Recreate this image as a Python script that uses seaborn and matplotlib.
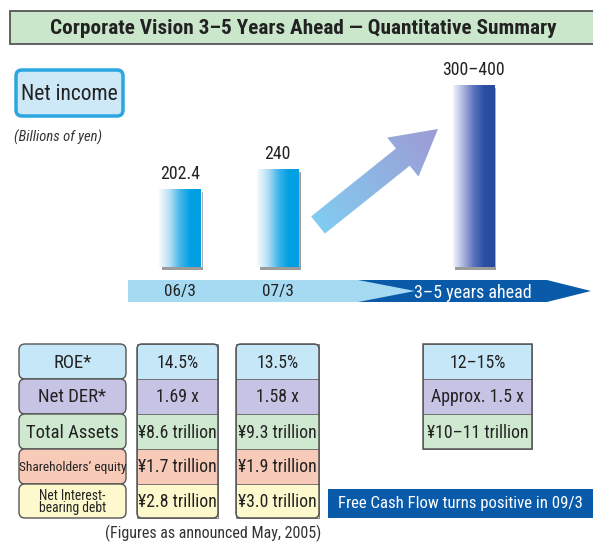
import numpy as np
import pandas as pd
import matplotlib.pyplot as plt
import seaborn as sns
from matplotlib import font_manager as fm
from matplotlib.patches import FancyBboxPatch, Rectangle, Polygon, FancyArrow
from matplotlib.colors import LinearSegmentedColormap

# data
periods = ['06/3', '07/3', '3–5 years ahead']
net_income = [202.4, 240, 400]
income_labels = ['202.4', '240', '300–400']

row_names = ['ROE*', 'Net DER*', 'Total Assets', 'Shareholders’ equity', 'Net Interest-\nbearing debt']
fy06 = ['14.5%', '1.69 x', '¥8.6 trillion', '¥1.7 trillion', '¥2.8 trillion']
fy07 = ['13.5%', '1.58 x', '¥9.3 trillion', '¥1.9 trillion', '¥3.0 trillion']
target = ['12–15%', 'Approx. 1.5 x', '¥10–11 trillion']
row_colors = ['#c6e7f8', '#c7c3e4', '#cfe8d0', '#f7cbb8', '#fdf9cd']

sns.set_theme(style='white')

# pick the narrowest font that is installed
names = {f.name for f in fm.fontManager.ttflist}
FAM, STR = 'Liberation Sans', 'normal'
for n in ['Liberation Sans Narrow', 'DejaVu Sans Condensed', 'Roboto Condensed']:
    if n in names:
        FAM = n
        break
else:
    if any(f.name == 'DejaVu Sans' and 'condensed' in str(f.stretch) for f in fm.fontManager.ttflist):
        FAM, STR = 'DejaVu Sans', 'condensed'
plt.rcParams['font.family'] = [FAM, 'DejaVu Sans']


def txt(ax, x, y, s, size, **kw):
    kw.setdefault('ha', 'center')
    kw.setdefault('va', 'center')
    kw.setdefault('color', '#222222')
    return ax.text(x, y, s, fontsize=size, fontstretch=STR, **kw)


W, H = 593, 542
fig = plt.figure(figsize=(W / 100, H / 100), dpi=100)
ax0 = fig.add_axes([0, 0, 1, 1])
ax0.set_xlim(0, W)
ax0.set_ylim(H, 0)
ax0.axis('off')


def px_axes(x0, y0, x1, y1):
    return fig.add_axes([x0 / W, 1 - y1 / H, (x1 - x0) / W, (y1 - y0) / H])


# title band
ax0.add_patch(Rectangle((10, 11), 600, 33, fc='#cbe7cb', ec='#555555', lw=1.3))
txt(ax0, 303, 28, 'Corporate Vision 3–5 Years Ahead — Quantitative Summary', 15.3, fontweight='bold')

# net income label
ax0.add_patch(FancyBboxPatch((16, 70), 107, 46, boxstyle='round,pad=0,rounding_size=6',
                             fc='#cde8f7', ec='#2aa6e0', lw=2.5))
txt(ax0, 69, 94, 'Net income', 15.5)
txt(ax0, 14, 137, '(Billions of yen)', 10.5, ha='left', style='italic', color='#333333')

# period strip
ax0.add_patch(Polygon([(350, 280), (547, 280), (591, 291), (547, 302), (350, 302)],
                      closed=True, fc='#0a5aaa', ec='none'))
ax0.add_patch(Polygon([(128, 280), (358, 280), (415, 291), (358, 302), (128, 302)],
                      closed=True, fc='#a6daf3', ec='none'))

# growth arrow with gradient
arrow = FancyArrow(318, 225, 120, -96, width=22, head_width=50, head_length=45,
                   length_includes_head=True, fc='none', ec='none')
ax0.add_patch(arrow)
xs = np.linspace(300, 450, 120)
ys = np.linspace(120, 240, 120)
X, Y = np.meshgrid(xs, ys)
t = np.clip(((X - 318) * 120 + (Y - 225) * (-96)) / (120 ** 2 + 96 ** 2), 0, 1)
arr_cmap = LinearSegmentedColormap.from_list('arr', ['#82ccf1', '#9d9bd4'])
im = ax0.imshow(t, cmap=arr_cmap, extent=[300, 450, 240, 120], aspect='auto', zorder=2)
im.set_clip_path(arrow)
ax0.set_xlim(0, W)
ax0.set_ylim(H, 0)

# bars
unit = 97.7
base, scale = 56, 0.53
ax = px_axes(128, 60, 590, 267)
ax.patch.set_alpha(0)
df = pd.DataFrame({'period': periods, 'income': net_income})
order = [periods[0], periods[1], ' ', periods[2]]
sns.barplot(data=df, x='period', y='income', order=order, width=0.42, color='#00a0e3',
            ax=ax, saturation=1)
xlim = ((128 - 180) / unit, (590 - 180) / unit)
ylim = (base, base + 207 / scale)

cyan = LinearSegmentedColormap.from_list('c', ['#f6fbfe', '#b8e0f5', '#45b6ea', '#00a0e3', '#00a0e3'])
navy = LinearSegmentedColormap.from_list('n', ['#f4f4fb', '#aab3dc', '#5a72bd', '#2a4ea3', '#274a9f'])
grad = np.linspace(0, 1, 256).reshape(1, -1)
bars = sorted(ax.patches, key=lambda p: p.get_x())
for i, p in enumerate(bars):
    x0, w, h = p.get_x(), p.get_width(), p.get_height()
    cm = navy if i == 2 else cyan
    ax.add_patch(Rectangle((x0 + 2.5 / unit, base - 3 / scale), w, h - base, fc='#9b9b9b',
                           ec='none', clip_on=False, zorder=1))
    p.set_zorder(2)
    p.set_facecolor('none')
    g = ax.imshow(grad, cmap=cm, extent=[x0, x0 + w, base, h], aspect='auto',
                  zorder=3, interpolation='bicubic')
    g.set_clip_path(p)
    ax.annotate(income_labels[i], (x0 + w / 2, h), xytext=(0, 15), textcoords='offset pixels',
                ha='center', va='center', fontsize=12.8, fontstretch=STR, color='#222222')
ax.set_xlim(*xlim)
ax.set_ylim(*ylim)
ax.set_xlabel('')
ax.set_ylabel('')
ax.set_yticks([])
sns.despine(ax=ax, left=True, bottom=True)
ax.tick_params(axis='x', length=0, pad=12)
for lab in ax.get_xticklabels():
    big = lab.get_text() == periods[2]
    lab.set_fontsize(13 if big else 12.3)
    lab.set_fontstretch(STR)
    lab.set_color('white' if big else '#222222')

# table
edges = [344, 379, 414, 449, 484, 518]
for i, name in enumerate(row_names):
    ax0.add_patch(FancyBboxPatch((19, edges[i]), 107, edges[i + 1] - edges[i],
                                 boxstyle='round,pad=0,rounding_size=6',
                                 fc=row_colors[i], ec='#555555', lw=1))
    size = 13.5 if i < 3 else (9.6 if i == 3 else 9.8)
    txt(ax0, 72.5, (edges[i] + edges[i + 1]) / 2 + 1, name, size, linespacing=0.8)


def column(x0, x1, values, rounded=True):
    for i, v in enumerate(values):
        ax0.add_patch(Rectangle((x0, edges[i]), x1 - x0, edges[i + 1] - edges[i],
                                fc=row_colors[i], ec='#6a6a6a', lw=0.6))
        txt(ax0, (x0 + x1) / 2, (edges[i] + edges[i + 1]) / 2 + 1, v, 12.8)
    style = 'round,pad=0,rounding_size=5' if rounded else 'square,pad=0'
    ax0.add_patch(FancyBboxPatch((x0, edges[0]), x1 - x0, edges[len(values)] - edges[0],
                                 boxstyle=style, fc='none', ec='#555555', lw=1.1))


column(137, 218, fy06)
column(236, 319, fy07)
column(423, 532, target, rounded=False)

# free cash flow banner
ax0.add_patch(Rectangle((328, 489), 270, 29, fc='#0a5aaa', ec='none'))
txt(ax0, 460, 503.5, 'Free Cash Flow turns positive in 09/3', 12.1, color='white')

txt(ax0, 213, 533, '(Figures as announced May, 2005)', 11.5, color='#333333')

fig.savefig('out.png', dpi=100)
